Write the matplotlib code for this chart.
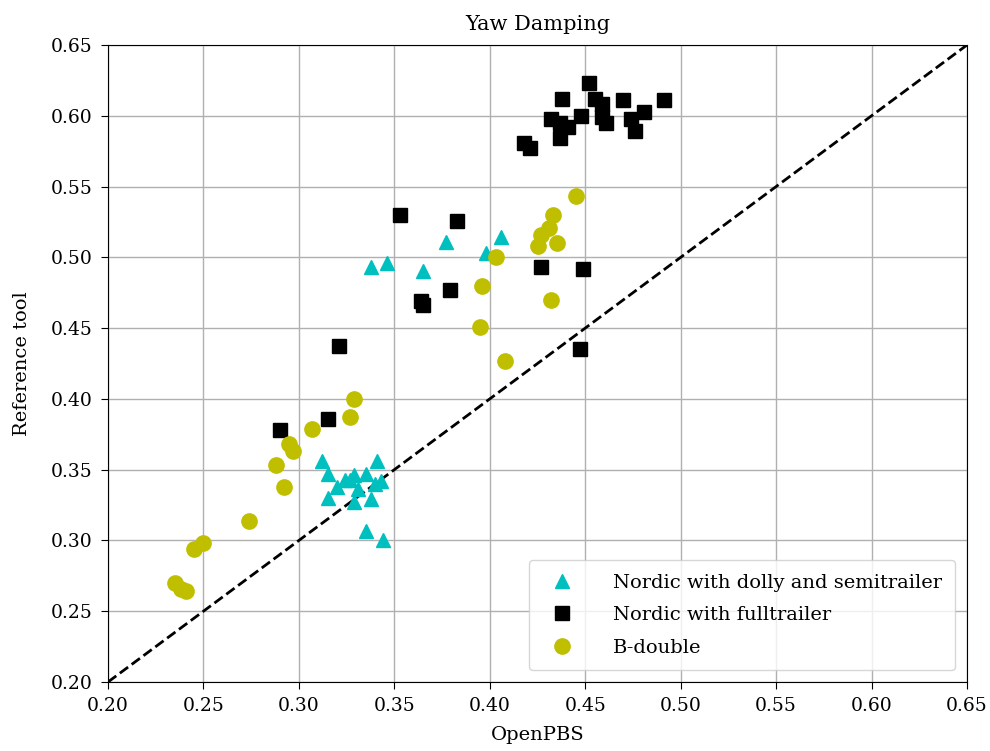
import numpy as np
import matplotlib
matplotlib.use("Agg")
import matplotlib.pyplot as plt

plt.rcParams["font.family"] = ["DejaVu Serif"]

# Nordic with dolly and semitrailer
dolly_x = [0.338, 0.346, 0.377, 0.365, 0.398, 0.406, 0.312, 0.341, 0.315, 0.329,
           0.335, 0.320, 0.324, 0.331, 0.343, 0.340, 0.315, 0.329, 0.338, 0.335,
           0.344, 0.327]
dolly_y = [0.493, 0.496, 0.511, 0.490, 0.503, 0.514, 0.356, 0.356, 0.347, 0.346,
           0.347, 0.338, 0.343, 0.336, 0.342, 0.340, 0.330, 0.327, 0.329, 0.307,
           0.300, 0.343]

# Nordic with fulltrailer
full_x = [0.353, 0.383, 0.427, 0.449, 0.379, 0.364, 0.365, 0.321, 0.447, 0.315,
          0.290, 0.452, 0.438, 0.455, 0.470, 0.491, 0.459, 0.432, 0.448, 0.437,
          0.441, 0.459, 0.461, 0.481, 0.474, 0.476, 0.437, 0.418, 0.421]
full_y = [0.530, 0.526, 0.493, 0.492, 0.477, 0.469, 0.466, 0.437, 0.435, 0.386,
          0.378, 0.623, 0.612, 0.612, 0.611, 0.611, 0.608, 0.598, 0.600, 0.595,
          0.592, 0.599, 0.595, 0.603, 0.598, 0.589, 0.584, 0.581, 0.577]

# B-double
bdouble_x = [0.445, 0.433, 0.431, 0.427, 0.435, 0.425, 0.403, 0.396, 0.432, 0.395,
             0.408, 0.329, 0.327, 0.307, 0.295, 0.297, 0.288, 0.292, 0.274, 0.250,
             0.245, 0.235, 0.238, 0.241]
bdouble_y = [0.543, 0.530, 0.521, 0.516, 0.510, 0.508, 0.500, 0.480, 0.470, 0.451,
             0.427, 0.400, 0.387, 0.379, 0.368, 0.363, 0.353, 0.338, 0.314, 0.298,
             0.294, 0.270, 0.266, 0.264]

fig = plt.figure(figsize=(9.9, 7.51), dpi=100)
ax = fig.add_axes([0.1091, 0.0919, 0.8677, 0.8482])

ax.plot(dolly_x, dolly_y, "c^", markersize=10, label="Nordic with dolly and semitrailer", zorder=3)
ax.plot(full_x, full_y, "ks", markersize=10.5, label="Nordic with fulltrailer", zorder=3)
ax.plot(bdouble_x, bdouble_y, "yo", markersize=11, label="B-double", zorder=3)
ax.plot([0.2, 0.65], [0.2, 0.65], "k--", linewidth=2, zorder=2)

ticks = np.arange(0.20, 0.651, 0.05)
ax.set_xticks(ticks)
ax.set_yticks(ticks)
ax.set_xticklabels([f"{t:.2f}" for t in ticks])
ax.set_yticklabels([f"{t:.2f}" for t in ticks])
ax.set_xlim(0.2, 0.65)
ax.set_ylim(0.2, 0.65)
ax.tick_params(labelsize=13.5, length=5, pad=6)
ax.grid(True, color="#b0b0b0", linewidth=1)
ax.set_axisbelow(True)

ax.set_title("Yaw Damping", fontsize=15, pad=11)
ax.set_xlabel("OpenPBS", fontsize=14, labelpad=8)
ax.set_ylabel("Reference tool", fontsize=14, labelpad=14)
ax.legend(loc="lower right", fontsize=14, borderpad=0.7, labelspacing=0.75,
          handletextpad=1.6, borderaxespad=0.6)

fig.savefig("out.png", dpi=100)
